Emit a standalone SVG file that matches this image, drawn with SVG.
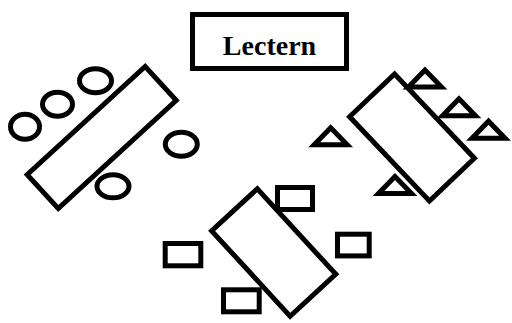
<svg xmlns="http://www.w3.org/2000/svg" width="512" height="323" viewBox="0 0 512 323">
  <style>
    .s { fill: none; stroke: #000; stroke-width: 5; }
    .label { font-family: "Liberation Serif", "Times New Roman", serif; font-weight: bold; font-size: 28px; text-anchor: middle; fill: #000; }
  </style>
  <rect width="512" height="323" fill="#fff"/>

  <g id="lectern">
    <rect class="s" x="192.5" y="14.5" width="154" height="54"/>
    <text class="label" x="269.5" y="55">Lectern</text>
  </g>

  <!-- left table with round seats -->
  <g id="table-left">
    <rect class="s" x="-80" y="-23" width="160" height="46" transform="translate(101.7 137.5) rotate(-42.5)"/>
  </g>
  <g id="seats-left">
    <ellipse class="s" cx="25" cy="126.7" rx="14.5" ry="12.5"/>
    <ellipse class="s" cx="57.5" cy="104.2" rx="15" ry="12"/>
    <ellipse class="s" cx="95.5" cy="80.8" rx="16" ry="12"/>
    <ellipse class="s" cx="181.3" cy="144.2" rx="16" ry="12"/>
    <ellipse class="s" cx="113" cy="186.3" rx="16" ry="11.5"/>
  </g>

  <!-- right table with triangular seats -->
  <g id="table-right">
    <rect class="s" x="-58" y="-31" width="116" height="62" transform="translate(412 137.5) rotate(46.5)"/>
  </g>
  <g id="seats-right">
    <polygon class="s" points="425,70 408.5,87 441.5,87"/>
    <polygon class="s" points="459,98.8 442.5,115.8 475.5,115.8"/>
    <polygon class="s" points="488.5,121.2 472,138.2 505,138.2"/>
    <polygon class="s" points="330.7,127.8 314.2,144.8 347.2,144.8"/>
    <polygon class="s" points="395,176.5 378.5,193.5 411.5,193.5"/>
  </g>

  <!-- bottom table with square seats -->
  <g id="table-bottom">
    <rect class="s" x="-58" y="-31" width="116" height="62" transform="translate(273.7 252.5) rotate(47.4)"/>
  </g>
  <g id="seats-bottom">
    <rect class="s" x="277.5" y="187.5" width="35" height="22"/>
    <rect class="s" x="165.2" y="243.5" width="35.6" height="22.3"/>
    <rect class="s" x="337.5" y="234.2" width="31.7" height="21.7"/>
    <rect class="s" x="223.5" y="289.8" width="35.7" height="22"/>
  </g>

  <g id="connectors"/>
</svg>
